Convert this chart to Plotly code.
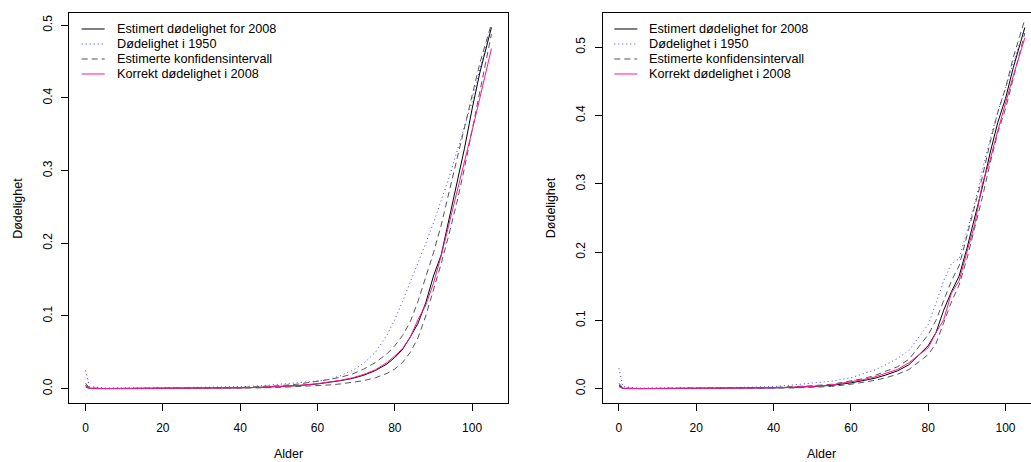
import plotly.graph_objects as go

# Age grid shared by every series
ages = [0, 1, 5, 10, 15, 20, 25, 30, 35, 40, 45, 50, 55, 60, 63, 66, 69, 72, 75,
        78, 80, 82, 84, 86, 88, 90, 92, 94, 96, 98, 100, 102, 105]

# Left panel
est_left = [0.0045, 0.0005, 0.0001, 0.0001, 0.0003, 0.0005, 0.0006, 0.0006, 0.0008,
            0.0011, 0.0017, 0.0027, 0.0042, 0.0065, 0.0085, 0.011, 0.014, 0.0185,
            0.025, 0.034, 0.043, 0.054, 0.071, 0.09, 0.118, 0.155, 0.184, 0.232,
            0.28, 0.33, 0.385, 0.435, 0.497]
m1950_left = [0.025, 0.003, 0.0008, 0.0007, 0.0009, 0.0013, 0.0015, 0.0016, 0.002,
              0.0027, 0.0038, 0.0055, 0.0082, 0.0105, 0.0128, 0.018, 0.025, 0.035,
              0.05, 0.074, 0.095, 0.12, 0.146, 0.173, 0.2, 0.228, 0.258, 0.29,
              0.325, 0.36, 0.395, 0.44, 0.497]
upper_left = [0.0075, 0.001, 0.0002, 0.0002, 0.0005, 0.0008, 0.0009, 0.0009, 0.0012,
              0.0017, 0.0026, 0.004, 0.0062, 0.0098, 0.0125, 0.0158, 0.02, 0.027,
              0.036, 0.048, 0.059, 0.073, 0.092, 0.12, 0.152, 0.187, 0.225, 0.27,
              0.315, 0.36, 0.405, 0.448, 0.502]
lower_left = [0.002, 0.0002, 0.00005, 0.00005, 0.0001, 0.0002, 0.0003, 0.0003, 0.0004,
              0.0006, 0.001, 0.0017, 0.0028, 0.004, 0.005, 0.0065, 0.0085, 0.011,
              0.015, 0.021, 0.027, 0.036, 0.05, 0.07, 0.1, 0.135, 0.172, 0.212,
              0.255, 0.303, 0.355, 0.41, 0.488]
true_left = [0.0035, 0.0004, 0.0001, 0.0001, 0.0003, 0.0005, 0.0006, 0.0006, 0.0008,
             0.0011, 0.0017, 0.0027, 0.0043, 0.0068, 0.0088, 0.0115, 0.0148, 0.0195,
             0.026, 0.036, 0.045, 0.055, 0.071, 0.095, 0.115, 0.145, 0.183, 0.225,
             0.268, 0.31, 0.355, 0.40, 0.468]

# Right panel
est_right = [0.005, 0.0005, 0.0002, 0.0002, 0.0004, 0.0006, 0.0007, 0.0007, 0.0009,
             0.0012, 0.0018, 0.003, 0.0048, 0.0085, 0.0115, 0.015, 0.02, 0.026,
             0.035, 0.052, 0.063, 0.082, 0.115, 0.142, 0.165, 0.205, 0.25, 0.295,
             0.345, 0.39, 0.425, 0.47, 0.529]
m1950_right = [0.03, 0.003, 0.0008, 0.0008, 0.001, 0.0014, 0.0016, 0.0018, 0.0023,
               0.0032, 0.0055, 0.0078, 0.011, 0.016, 0.021, 0.027, 0.035, 0.044,
               0.056, 0.078, 0.094, 0.125, 0.158, 0.183, 0.19, 0.23, 0.27, 0.32,
               0.365, 0.405, 0.44, 0.477, 0.53]
upper_right = [0.008, 0.001, 0.0003, 0.0003, 0.0006, 0.0009, 0.001, 0.001, 0.0013,
               0.0018, 0.0027, 0.0043, 0.0065, 0.011, 0.0145, 0.019, 0.025, 0.032,
               0.043, 0.064, 0.079, 0.1, 0.13, 0.158, 0.18, 0.222, 0.266, 0.31,
               0.36, 0.405, 0.44, 0.485, 0.541]
lower_right = [0.003, 0.0002, 0.0001, 0.0001, 0.0002, 0.0003, 0.0004, 0.0004, 0.0005,
               0.0007, 0.0011, 0.002, 0.0033, 0.0065, 0.009, 0.012, 0.016, 0.021,
               0.028, 0.042, 0.05, 0.066, 0.097, 0.127, 0.152, 0.19, 0.235, 0.28,
               0.33, 0.375, 0.41, 0.455, 0.521]
true_right = [0.004, 0.0005, 0.0002, 0.0002, 0.0004, 0.0006, 0.0007, 0.0008, 0.001,
              0.0013, 0.002, 0.0033, 0.0055, 0.0095, 0.013, 0.017, 0.022, 0.028,
              0.038, 0.051, 0.06, 0.082, 0.101, 0.14, 0.158, 0.20, 0.24, 0.30,
              0.335, 0.378, 0.418, 0.458, 0.514]

legend_names = ["Estimert dødelighet for 2008", "Dødelighet i 1950",
                "Estimerte konfidensintervall", "Korrekt dødelighet i 2008"]
x_title = "Alder"
y_title = "Dødelighet"
x_ticks = [0, 20, 40, 60, 80, 100]
y_ticks = [0.0, 0.1, 0.2, 0.3, 0.4, 0.5]

FONT = "Liberation Sans, Arial, Helvetica, sans-serif"
W, H = 1031, 462

# line styles: solid estimate, dotted 1950, dashed interval, pink true value
STYLES = [dict(color="black", width=1),
          dict(color="#3b3bff", width=1, dash="1px,3px"),
          dict(color="#555555", width=1, dash="6px,4px"),
          dict(color="#ff1493", width=1)]

fig = go.Figure()


def add_panel(xa, ya, est, m1950, upper, lower, true):
    common = dict(x=ages, mode="lines", xaxis=xa, yaxis=ya,
                  hoverinfo="skip", showlegend=False)
    fig.add_trace(go.Scatter(y=est, name=legend_names[0], line=STYLES[0], **common))
    fig.add_trace(go.Scatter(y=m1950, name=legend_names[1], line=STYLES[1], **common))
    fig.add_trace(go.Scatter(y=upper, name=legend_names[2], line=STYLES[2], **common))
    fig.add_trace(go.Scatter(y=lower, name=legend_names[2], line=STYLES[2], **common))
    fig.add_trace(go.Scatter(y=true, name=legend_names[3], line=STYLES[3], **common))


add_panel("x", "y", est_left, m1950_left, upper_left, lower_left, true_left)
add_panel("x2", "y2", est_right, m1950_right, upper_right, lower_right, true_right)


def r_range(vals):
    lo, hi = min(vals), max(vals)
    pad = 0.04 * (hi - lo)
    return [lo - pad, hi + pad]


x_rng = r_range(ages)
# right panel plot box runs past the page edge: same scale, clipped range
box_w = 438.4
left_box = [69.3, 507.7]
right_left_px = 602.7
x_rng_right = [x_rng[0], x_rng[0] + (x_rng[1] - x_rng[0]) * (W - right_left_px) / box_w]

box_top, box_bottom = 13, 403
ydom = [(H - box_bottom) / H, (H - box_top) / H]

xax = dict(showline=True, mirror=True, linecolor="black", linewidth=1,
           ticks="outside", ticklen=7, tickwidth=1, tickcolor="black",
           tickvals=x_ticks, showgrid=False, zeroline=False, automargin=False,
           ticklabelstandoff=7, tickfont=dict(size=12, color="black", family=FONT))
yax = dict(showline=True, linecolor="black", linewidth=1,
           ticks="outside", ticklen=7, tickwidth=1, tickcolor="black",
           tickvals=y_ticks, tickformat=".1f", tickangle=-90, showgrid=False,
           zeroline=False, automargin=False, ticklabelstandoff=5,
           tickfont=dict(size=12, color="black", family=FONT))

title_font = dict(size=12.5, color="black", family=FONT)
shapes, annotations = [], []

# axis titles under / beside each panel box
for bx0, bx1 in ((left_box[0], left_box[1]), (right_left_px, right_left_px + box_w)):
    annotations.append(dict(xref="paper", yref="paper", x=(bx0 + bx1) / 2 / W,
                            y=1 - 454 / H, xanchor="center", yanchor="middle",
                            showarrow=False, text=x_title, font=title_font,
                            borderpad=0))
    annotations.append(dict(xref="paper", yref="paper", x=(bx0 - 51.5) / W,
                            y=1 - (box_top + box_bottom) / 2 / H, xanchor="center",
                            yanchor="middle", textangle=-90, showarrow=False,
                            text=y_title, font=title_font))

# legend: key lines and labels in the upper-left corner of each panel
row_y = [29, 44, 59, 74]
for key_x0 in (81.7, 614.3):
    for i, name in enumerate(legend_names):
        yy = 1 - row_y[i] / H
        shapes.append(dict(type="line", xref="paper", yref="paper",
                           x0=key_x0 / W, x1=(key_x0 + 23) / W, y0=yy, y1=yy,
                           line=STYLES[i]))
        annotations.append(dict(xref="paper", yref="paper", x=(key_x0 + 34) / W, y=yy,
                                xanchor="left", yanchor="middle", showarrow=False,
                                text=name, borderpad=0,
                                font=dict(size=12.7, color="black", family=FONT)))

fig.update_layout(
    width=W, height=H, margin=dict(l=0, r=0, t=0, b=0),
    paper_bgcolor="white", plot_bgcolor="white",
    font=dict(family=FONT, size=12, color="black"),
    xaxis=dict(domain=[left_box[0] / W, left_box[1] / W], range=x_rng, anchor="y", **xax),
    yaxis=dict(domain=ydom, range=r_range(est_left), anchor="x", mirror=True, **yax),
    xaxis2=dict(domain=[right_left_px / W, 1.0], range=x_rng_right, anchor="y2", **xax),
    yaxis2=dict(domain=ydom, range=r_range(est_right), anchor="x2", mirror=False, **yax),
    shapes=shapes, annotations=annotations,
    showlegend=False,
)

fig.write_html("out.html")
